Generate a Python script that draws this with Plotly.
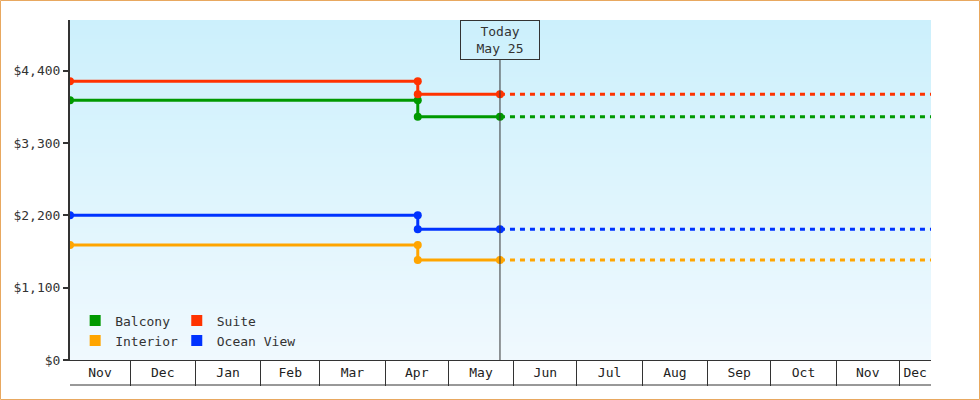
import pandas as pd
import plotly.graph_objects as go

# cabin prices, before and after the April price change
categories = ["Balcony", "Suite", "Interior", "Ocean View"]
colors = ["#009900", "#ff3300", "#ffa500", "#0033ff"]
price_before = [3950, 4240, 1750, 2200]
price_after = [3700, 4040, 1520, 1990]

period_start = "2024-11-02 12:00"
change_date = "2025-04-16 12:00"
today = "2025-05-25 12:00"
period_end = "2025-12-16"

y_ticks = [0, 1100, 2200, 3300, 4400]
y_max = 5170

FONT = "DejaVu Sans Mono"
DARK = "#333333"

fig = go.Figure()

# light blue vertical gradient behind the plot
fig.add_trace(go.Heatmap(
    x=[period_start, period_end], y=[0, y_max], z=[[0, 0], [1, 1]],
    colorscale=[[0, "#f0f9fe"], [1, "#ccf0fc"]], zsmooth="best",
    showscale=False, hoverinfo="skip"))

for name, col, before, after in zip(categories, colors, price_before, price_after):
    fig.add_trace(go.Scatter(
        x=[period_start, change_date, change_date, today],
        y=[before, before, after, after],
        mode="lines+markers", line=dict(color=col, width=3),
        marker=dict(size=8, color=col), showlegend=False, name=name))
    fig.add_trace(go.Scatter(
        x=[today, period_end], y=[after, after], mode="lines",
        line=dict(color=col, width=3, dash="5px,5px"),
        showlegend=False, hoverinfo="skip"))

# legend entries with square swatches, two columns
legend_of = {"Balcony": "legend", "Interior": "legend",
             "Suite": "legend2", "Ocean View": "legend2"}
for name, col in zip(categories, colors):
    fig.add_trace(go.Scatter(
        x=[None], y=[None], mode="markers", name=name,
        marker=dict(symbol="square", size=11, color=col),
        legend=legend_of[name]))

# month labels centred on the visible part of each month
lo, hi = pd.Timestamp(period_start), pd.Timestamp(period_end)
starts = pd.date_range(lo.to_period("M").to_timestamp(), hi, freq="MS")
tick_pos, tick_txt = [], []
for s in starts:
    a = max(s, lo)
    b = min(s + pd.offsets.MonthBegin(1), hi)
    tick_pos.append(a + (b - a) / 2)
    tick_txt.append(s.strftime("%b"))

fig.update_xaxes(
    type="date", range=[period_start, period_end],
    tickvals=tick_pos, ticktext=tick_txt, ticks="", ticklabelstandoff=0,
    showgrid=False, showline=True, linecolor=DARK, linewidth=1,
    tickfont=dict(family=FONT, size=13, color="#222"),
    minor=dict(ticks="outside", ticklen=25, tickwidth=1, tickcolor=DARK,
               tick0="2024-12-01", dtick="M1", showgrid=False),
    zeroline=False)
fig.update_yaxes(
    range=[0, y_max], tickvals=y_ticks, tickformat="$,d",
    ticks="outside", ticklen=5, tickwidth=2, tickcolor=DARK,
    showgrid=False, showline=True, linecolor=DARK, linewidth=2,
    tickfont=dict(family=FONT, size=13, color="#333"), zeroline=False)

W, H = 980, 400
L, R, T, B = 70, 49, 20, 40
pw, ph = W - L - R, H - T - B

shapes = [
    # bottom edge of the month strip
    dict(type="line", xref="paper", yref="paper", x0=0, x1=1,
         y0=-25 / ph, y1=-25 / ph, line=dict(color=DARK, width=1)),
    # today marker
    dict(type="line", xref="x", yref="paper", x0=today, x1=today,
         y0=0, y1=(ph - 40) / ph, line=dict(color=DARK, width=1)),
    # outer orange frame
    dict(type="rect", xref="paper", yref="paper",
         x0=(0.5 - L) / pw, x1=(W - 0.5 - L) / pw,
         y0=-(B - 0.5) / ph, y1=(ph + T - 0.5) / ph,
         line=dict(color="#e8a860", width=1)),
]

fig.update_layout(
    width=W, height=H, margin=dict(l=L, r=R, t=T, b=B),
    paper_bgcolor="white", plot_bgcolor="#e6f7fd",
    font=dict(family=FONT, size=13, color="#333"),
    shapes=shapes,
    annotations=[dict(
        x=today, xref="x", y=1, yref="paper", yanchor="top",
        text="Today<br>May 25", showarrow=False, align="center",
        width=78, height=38, borderwidth=1, bordercolor=DARK, borderpad=0,
        font=dict(family=FONT, size=13, color="#333"))],
    legend=dict(x=0.006, y=0.16, xanchor="left", yanchor="top",
                bgcolor="rgba(0,0,0,0)", tracegroupgap=0,
                font=dict(family=FONT, size=13, color="#333")),
    legend2=dict(x=0.124, y=0.16, xanchor="left", yanchor="top",
                 bgcolor="rgba(0,0,0,0)", tracegroupgap=0,
                 font=dict(family=FONT, size=13, color="#333")),
    hovermode=False,
)

fig.write_html("out.html", config={"displayModeBar": False},
               post_script="document.body.style.margin = '0';")
